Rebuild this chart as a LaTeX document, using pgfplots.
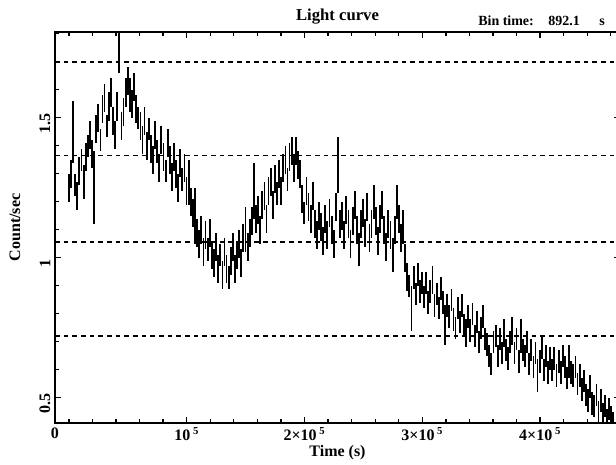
\documentclass[border=0pt]{standalone}
\usepackage{fontspec}
\setmainfont{Liberation Serif}
\usepackage{pgfplots}
\pgfplotsset{compat=1.18}

\begin{document}
\begin{tikzpicture}
  \begin{axis}[
    width=423.75pt, height=293.25pt, scale only axis,
    xmin=-11.8, xmax=467.8, ymin=0.41, ymax=1.806,
    axis line style={line width=1.2pt},
    every tick/.style={black, line width=1pt},
    major tick length=4.5pt, minor tick length=3pt,
    tick align=inside,
    xtick={100,200,300,400},
    xticklabels={10\,\textsuperscript{5}, 2×10\,\textsuperscript{5}, 3×10\,\textsuperscript{5}, 4×10\,\textsuperscript{5}},
    minor xtick={0,20,40,60,80,120,140,160,180,220,240,260,280,320,340,360,380,420,440,460},
    extra x ticks={-11.8}, extra x tick labels={0},
    extra x tick style={major tick length=0pt},
    ytick={0.5,1,1.5}, yticklabels={0.5,1,1.5},
    minor ytick={0.6,0.7,0.8,0.9,1.1,1.2,1.3,1.4,1.6,1.7,1.8},
    tick label style={font=\fontsize{12}{14}\selectfont\bfseries},
    yticklabel style={rotate=90, anchor=south, xshift=-4pt},
    xlabel={Time (s)}, ylabel={Count/sec},
    every axis x label/.style={at={(rel axis cs:0.5,0)}, anchor=base, yshift=-25pt,
      font=\fontsize{12}{14}\selectfont\bfseries},
    every axis y label/.style={at={(rel axis cs:0,0.5)}, xshift=-30pt, rotate=90, anchor=center,
      font=\fontsize{12}{14}\selectfont\bfseries},
    clip=true,
  ]
    \addplot[black, line width=1.3pt, dash pattern=on 3.5pt off 3pt] coordinates {(-11.8,1.70) (467.8,1.70)};
    \addplot[black, line width=1.3pt, dash pattern=on 3.5pt off 3pt] coordinates {(-11.8,1.365) (467.8,1.365)};
    \addplot[black, line width=1.3pt, dash pattern=on 3.5pt off 3pt] coordinates {(-11.8,1.055) (467.8,1.055)};
    \addplot[black, line width=1.3pt, dash pattern=on 3.5pt off 3pt] coordinates {(-11.8,0.72) (467.8,0.72)};
    \addplot[draw=none, mark=none,
      error bars/.cd, y dir=both, y explicit, error mark=none,
      error bar style={line width=1.35pt, draw=black, solid}]
      table[x index=0, y index=1, y error index=2] {
t y e
0.0 1.25 0.05
1.8 1.30 0.05
3.6 1.45 0.11
5.4 1.26 0.04
7.1 1.22 0.05
8.9 1.31 0.05
10.7 1.35 0.04
12.5 1.27 0.06
14.3 1.36 0.05
16.1 1.40 0.04
17.8 1.44 0.05
19.6 1.37 0.05
21.4 1.25 0.13
23.2 1.46 0.05
25.0 1.50 0.05
26.8 1.42 0.04
28.5 1.53 0.05
30.3 1.57 0.05
32.1 1.47 0.04
33.9 1.54 0.05
35.7 1.59 0.05
37.5 1.49 0.05
39.2 1.44 0.05
41.0 1.54 0.05
42.8 1.74 0.08
44.6 1.47 0.05
46.4 1.52 0.05
48.2 1.59 0.05
50.0 1.63 0.05
51.7 1.58 0.06
53.5 1.55 0.05
55.3 1.61 0.05
57.1 1.53 0.05
58.9 1.50 0.04
60.7 1.47 0.05
62.4 1.42 0.05
64.2 1.49 0.05
66.0 1.40 0.05
67.8 1.46 0.04
69.6 1.39 0.05
71.4 1.35 0.05
73.1 1.44 0.05
74.9 1.38 0.04
76.7 1.32 0.05
78.5 1.42 0.05
80.3 1.36 0.05
82.1 1.31 0.04
83.8 1.41 0.05
85.6 1.35 0.05
87.4 1.29 0.05
89.2 1.36 0.05
91.0 1.30 0.05
92.8 1.25 0.05
94.6 1.34 0.05
96.3 1.28 0.04
98.1 1.32 0.05
99.9 1.24 0.05
101.7 1.27 0.08
103.5 1.20 0.05
105.3 1.16 0.05
107.0 1.15 0.10
108.8 1.09 0.05
110.6 1.05 0.05
112.4 1.10 0.05
114.2 1.02 0.05
116.0 1.08 0.05
117.8 1.03 0.04
119.5 1.09 0.05
121.3 1.01 0.05
123.1 0.98 0.05
124.9 1.04 0.05
126.7 0.96 0.05
128.5 1.01 0.04
130.3 0.94 0.05
132.1 1.02 0.05
133.8 0.96 0.05
135.6 0.93 0.04
137.4 0.99 0.05
139.2 1.04 0.05
141.0 0.96 0.05
142.7 1.01 0.05
144.5 1.05 0.05
146.3 0.98 0.05
148.1 1.07 0.05
149.9 1.10 0.08
151.7 1.04 0.05
153.5 1.09 0.05
155.2 1.13 0.05
157.0 1.24 0.10
158.8 1.14 0.05
160.6 1.17 0.05
162.4 1.10 0.05
164.2 1.19 0.05
166.0 1.22 0.05
167.7 1.14 0.05
169.5 1.24 0.05
171.3 1.27 0.05
173.1 1.19 0.05
174.9 1.28 0.05
176.6 1.23 0.04
178.4 1.30 0.05
180.2 1.24 0.05
182.0 1.32 0.05
183.8 1.35 0.05
185.6 1.28 0.04
187.3 1.36 0.05
189.1 1.38 0.05
190.9 1.32 0.05
192.7 1.38 0.05
194.5 1.33 0.05
196.2 1.30 0.05
198.0 1.21 0.05
199.8 1.16 0.04
201.6 1.24 0.05
203.4 1.18 0.05
205.2 1.14 0.05
206.9 1.22 0.05
208.7 1.12 0.05
210.5 1.08 0.05
212.3 1.15 0.05
214.1 1.11 0.05
215.9 1.06 0.05
217.7 1.14 0.05
219.4 1.08 0.05
221.2 1.16 0.05
223.0 1.10 0.05
224.8 1.05 0.05
226.6 1.18 0.05
228.4 1.33 0.10
230.1 1.12 0.05
231.9 1.15 0.05
233.7 1.08 0.05
235.5 1.17 0.05
237.3 1.12 0.05
239.1 1.05 0.05
240.9 1.13 0.05
242.6 1.19 0.05
244.4 1.10 0.05
246.2 1.03 0.06
248.0 1.12 0.05
249.8 1.16 0.05
251.6 1.09 0.05
253.3 1.18 0.05
255.1 1.07 0.05
256.9 1.12 0.05
258.7 1.20 0.06
260.5 1.13 0.05
262.3 1.06 0.05
264.0 1.14 0.05
265.8 1.19 0.05
267.6 1.10 0.05
269.4 1.04 0.05
271.2 1.12 0.05
273.0 1.08 0.05
274.8 1.01 0.06
276.5 1.10 0.05
278.3 1.20 0.06
280.1 1.14 0.05
281.9 1.07 0.05
283.7 1.11 0.06
285.4 1.00 0.05
287.2 0.93 0.05
289.0 0.90 0.04
290.8 0.82 0.08
292.6 0.93 0.04
294.4 0.87 0.04
296.1 0.94 0.04
297.9 0.88 0.04
299.7 0.91 0.04
301.5 0.86 0.04
303.3 0.91 0.04
305.1 0.84 0.04
306.8 0.88 0.04
308.6 0.92 0.05
310.4 0.83 0.04
312.2 0.87 0.04
314.0 0.82 0.04
315.8 0.89 0.04
317.5 0.84 0.04
319.3 0.76 0.07
321.1 0.83 0.04
322.9 0.79 0.04
324.7 0.85 0.04
326.5 0.78 0.04
328.2 0.75 0.04
330.0 0.82 0.04
331.8 0.77 0.04
333.6 0.83 0.04
335.4 0.76 0.04
337.2 0.73 0.05
339.0 0.79 0.04
340.8 0.74 0.04
342.6 0.80 0.04
344.4 0.72 0.04
346.2 0.77 0.04
347.9 0.70 0.04
349.7 0.75 0.04
351.5 0.79 0.04
353.3 0.71 0.04
355.0 0.69 0.04
356.8 0.65 0.04
358.6 0.62 0.04
360.4 0.70 0.04
362.2 0.72 0.04
364.0 0.65 0.04
365.7 0.71 0.04
367.5 0.66 0.04
369.3 0.73 0.05
371.1 0.67 0.04
372.9 0.64 0.04
374.6 0.70 0.04
376.4 0.74 0.05
378.2 0.66 0.04
380.0 0.71 0.04
381.8 0.63 0.04
383.6 0.72 0.06
385.3 0.67 0.04
387.1 0.65 0.04
388.9 0.70 0.04
390.7 0.62 0.04
392.5 0.67 0.04
394.3 0.61 0.04
396.1 0.66 0.04
397.8 0.58 0.06
399.6 0.63 0.04
401.4 0.68 0.04
403.2 0.60 0.04
405.0 0.65 0.04
406.8 0.59 0.04
408.5 0.64 0.04
410.3 0.60 0.04
412.1 0.64 0.04
413.9 0.58 0.04
415.7 0.63 0.04
417.5 0.59 0.04
419.2 0.65 0.04
421.0 0.61 0.04
422.8 0.57 0.04
424.6 0.63 0.06
426.4 0.59 0.04
428.2 0.58 0.04
430.0 0.61 0.04
431.7 0.55 0.04
433.5 0.58 0.04
435.3 0.53 0.04
437.1 0.56 0.04
438.9 0.51 0.04
440.7 0.49 0.04
442.4 0.54 0.04
444.2 0.48 0.04
446.0 0.47 0.04
447.8 0.51 0.04
449.6 0.45 0.04
451.4 0.49 0.04
453.2 0.44 0.04
455.0 0.47 0.04
456.7 0.43 0.03
458.5 0.46 0.04
460.3 0.44 0.03
462.1 0.42 0.03
      };
    \coordinate (ll) at (rel axis cs:0,0);
    \coordinate (ur) at (rel axis cs:1,1);
    \coordinate (tl) at (rel axis cs:0,1);
    \coordinate (tc) at (rel axis cs:0.5,1);
  \end{axis}
  \node[anchor=base, font=\fontsize{12.5}{14}\selectfont\bfseries] at ([yshift=8.8pt]tc) {Light curve};
  \node[anchor=base west, inner sep=0pt, font=\fontsize{10.5}{12}\selectfont\bfseries] at ([xshift=317.25pt, yshift=5pt]tl) {Bin time:};
  \node[anchor=base west, inner sep=0pt, font=\fontsize{10.5}{12}\selectfont\bfseries] at ([xshift=369.75pt, yshift=5pt]tl) {892.1};
  \node[anchor=base west, inner sep=0pt, font=\fontsize{10.5}{12}\selectfont\bfseries] at ([xshift=408pt, yshift=5pt]tl) {s};
  \pgfresetboundingbox
  \path[use as bounding box] ([xshift=-41.25pt, yshift=-30.75pt]ll) rectangle ([xshift=-3pt, yshift=24pt]ur);
\end{tikzpicture}
\end{document}
